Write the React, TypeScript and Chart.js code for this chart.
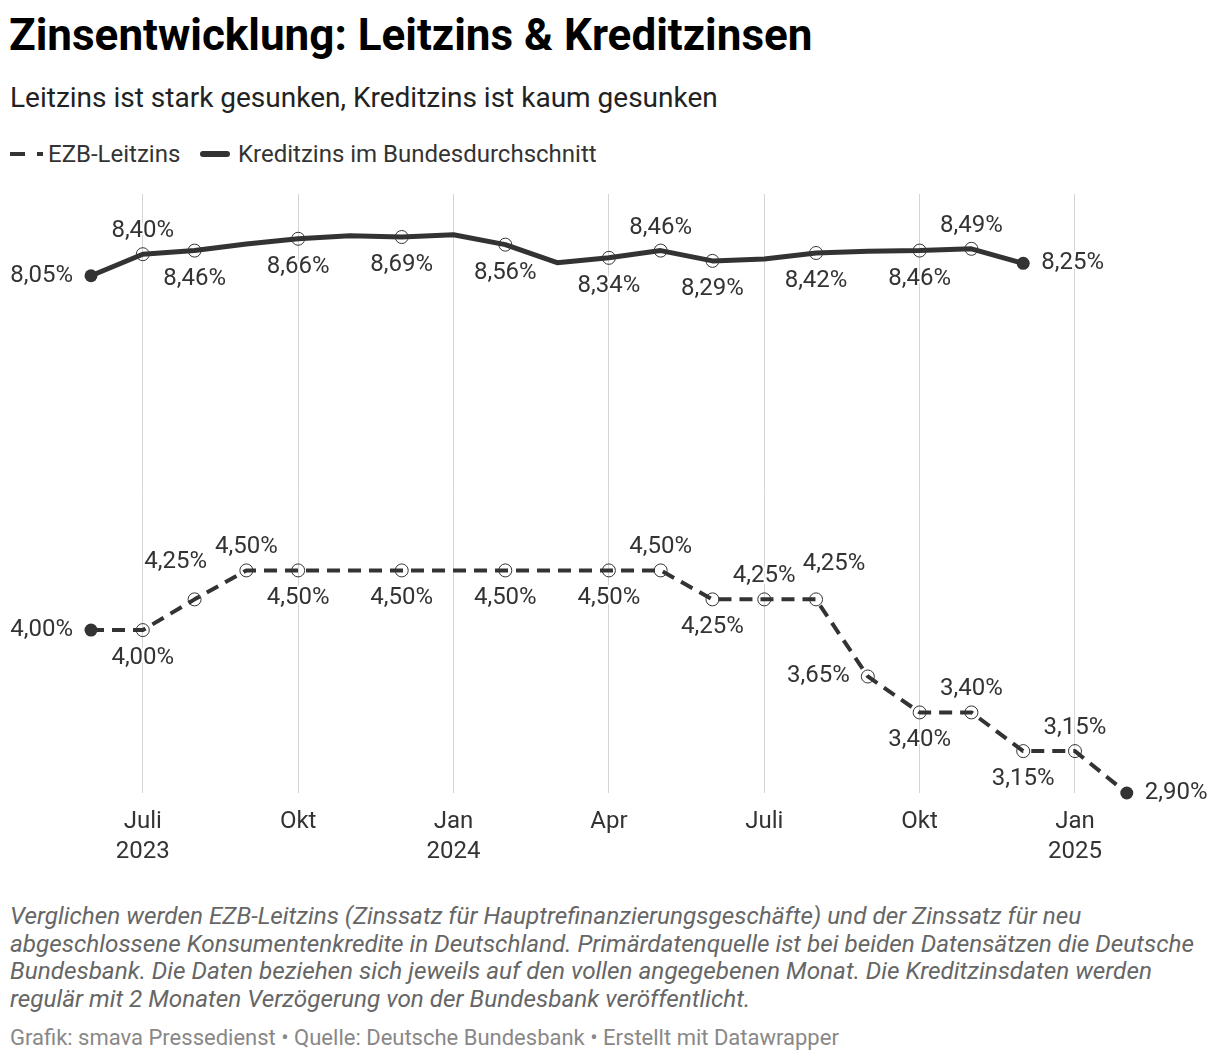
import React, { useEffect, useRef } from "react";
import { Chart, registerables } from "chart.js";

Chart.register(...registerables);

// ---------- data ----------
const months = [
  "06/2023", "07/2023", "08/2023", "09/2023", "10/2023", "11/2023", "12/2023",
  "01/2024", "02/2024", "03/2024", "04/2024", "05/2024", "06/2024", "07/2024",
  "08/2024", "09/2024", "10/2024", "11/2024", "12/2024", "01/2025", "02/2025",
];

const ezbLeitzins = [
  4.0, 4.0, 4.25, 4.5, 4.5, 4.5, 4.5, 4.5, 4.5, 4.5, 4.5, 4.5, 4.25, 4.25, 4.25,
  3.65, 3.4, 3.4, 3.15, 3.15, 2.9,
];

const kreditzins = [
  8.05, 8.4, 8.46, 8.57, 8.66, 8.71, 8.69, 8.73, 8.56, 8.26, 8.34, 8.46, 8.29,
  8.32, 8.42, 8.45, 8.46, 8.49, 8.25, null, null,
];

const tickMonthIndex = [1, 4, 7, 10, 13, 16, 19];
const tickLabels = [["Juli", "2023"], ["Okt"], ["Jan", "2024"], ["Apr"], ["Juli"], ["Okt"], ["Jan", "2025"]];

const seriesNames = ["EZB-Leitzins", "Kreditzins im Bundesdurchschnitt"];

// where each value label sits relative to its point (null = no label)
const ezbLabelPlacement = [
  "left", "below", "aboveLeft", "above", "below", null, "below", null, "below", null,
  "below", "above", "below", "above", "aboveRight", "left", "below", "above", "below",
  "above", "right",
];
const kreditLabelPlacement = [
  "left", "above", "below", null, "below", null, "below", null, "below", null, "below",
  "above", "below", null, "below", null, "below", "above", "right", null, null,
];

// ---------- style ----------
const FONT = "Roboto, 'Noto Sans', sans-serif";
const INK = "#333333";

function firstIndex(arr: (number | null)[]) {
  return arr.findIndex((v) => v != null);
}
function lastIndex(arr: (number | null)[]) {
  for (let i = arr.length - 1; i >= 0; i--) if (arr[i] != null) return i;
  return -1;
}

function pointOptions(values: (number | null)[], placement: (string | null)[]) {
  const f = firstIndex(values);
  const l = lastIndex(values);
  const isEnd = (i: number) => i === f || i === l;
  return {
    pointRadius: values.map((v, i) => (v == null ? 0 : isEnd(i) || placement[i] ? 6.5 : 0)),
    pointBackgroundColor: values.map((_, i) => (isEnd(i) ? INK : "rgba(0,0,0,0)")),
    pointBorderColor: values.map(() => INK),
    pointBorderWidth: values.map((_, i) => (isEnd(i) ? 0 : 1)),
  };
}

const placements = [ezbLabelPlacement, kreditLabelPlacement];

const labelPlugin = {
  id: "valueLabels",
  afterDatasetsDraw(chart: any) {
    const ctx = chart.ctx as CanvasRenderingContext2D;
    ctx.save();
    ctx.font = `24px ${FONT}`;
    ctx.textBaseline = "middle";
    chart.data.datasets.forEach((ds: any, di: number) => {
      const meta = chart.getDatasetMeta(di);
      const placement = placements[di];
      ds.data.forEach((pt: any, i: number) => {
        const p = placement[i];
        if (!p || pt.y == null) return;
        const el = meta.data[i];
        const text = pt.y.toFixed(2).replace(".", ",") + "%";
        let x = el.x;
        let y = el.y;
        let align: CanvasTextAlign = "center";
        switch (p) {
          case "above":
            y -= 23;
            break;
          case "below":
            y += 28;
            break;
          case "left":
            x -= 18;
            align = "right";
            break;
          case "right":
            x += 18;
            align = "left";
            break;
          case "aboveLeft":
            x -= 19;
            y -= 37;
            break;
          case "aboveRight":
            x += 18;
            y -= 35;
            break;
        }
        ctx.textAlign = align;
        ctx.lineWidth = 4;
        ctx.lineJoin = "round";
        ctx.strokeStyle = "#ffffff";
        ctx.strokeText(text, x, y);
        ctx.fillStyle = INK;
        ctx.fillText(text, x, y);
      });
    });
    ctx.restore();
  },
};

export default function App() {
  const ref = useRef<HTMLCanvasElement | null>(null);

  useEffect(() => {
    if (!ref.current) return;
    const toPoints = (vals: (number | null)[]) =>
      months.map((_, i) => ({ x: i, y: vals[i] }));

    const chart = new Chart(ref.current, {
      type: "line",
      data: {
        datasets: [
          {
            label: seriesNames[0],
            data: toPoints(ezbLeitzins) as any,
            borderColor: INK,
            borderWidth: 4,
            borderDash: [13, 8],
            borderCapStyle: "butt",
            borderJoinStyle: "round",
            tension: 0,
            clip: false as any,
            ...pointOptions(ezbLeitzins, ezbLabelPlacement),
          },
          {
            label: seriesNames[1],
            data: toPoints(kreditzins) as any,
            borderColor: INK,
            borderWidth: 5,
            borderCapStyle: "round",
            borderJoinStyle: "round",
            tension: 0,
            clip: false as any,
            ...pointOptions(kreditzins, kreditLabelPlacement),
          },
        ],
      },
      options: {
        responsive: false,
        animation: false,
        events: [],
        layout: { autoPadding: false, padding: { top: 14, left: 0, right: 0, bottom: 0 } },
        plugins: {
          legend: { display: false },
          tooltip: { enabled: false },
          title: { display: false },
        },
        scales: {
          x: {
            type: "linear",
            bounds: "data",
            min: -1.757,
            max: 21.8,
            afterBuildTicks: (scale: any) => {
              scale.ticks = tickMonthIndex.map((v) => ({ value: v }));
            },
            afterFit: (scale: any) => {
              scale.height = 87;
              scale.paddingLeft = 0;
              scale.paddingRight = 0;
            },
            ticks: {
              autoSkip: false,
              maxRotation: 0,
              padding: 14,
              color: INK,
              font: { family: FONT, size: 24, lineHeight: 1.25 },
              callback: (_v: any, index: number) => tickLabels[index],
            },
            grid: { color: "#d4d4d4", lineWidth: 1, drawTicks: false },
            border: { display: false },
          },
          y: {
            type: "logarithmic",
            bounds: "data",
            min: 2.9,
            max: 9.46,
            display: false,
          },
        },
      },
      plugins: [labelPlugin],
    });
    return () => chart.destroy();
  }, []);

  const footerLines = [
    "Verglichen werden EZB-Leitzins (Zinssatz für Hauptrefinanzierungsgeschäfte) und der Zinssatz für neu",
    "abgeschlossene Konsumentenkredite in Deutschland. Primärdatenquelle ist bei beiden Datensätzen die Deutsche",
    "Bundesbank. Die Daten beziehen sich jeweils auf den vollen angegebenen Monat. Die Kreditzinsdaten werden",
    "regulär mit 2 Monaten Verzögerung von der Bundesbank veröffentlicht.",
  ];

  return (
    <div
      style={{
        position: "absolute",
        left: 0,
        top: 0,
        width: 1220,
        height: 1062,
        background: "#ffffff",
        fontFamily: FONT,
        overflow: "hidden",
      }}
    >
      <div
        style={{
          position: "absolute",
          left: 9,
          top: 13,
          fontSize: 44,
          lineHeight: "44px",
          fontWeight: 700,
          color: "#000",
          whiteSpace: "nowrap",
        }}
      >
        Zinsentwicklung: Leitzins &amp; Kreditzinsen
      </div>
      <div
        style={{
          position: "absolute",
          left: 10,
          top: 84,
          fontSize: 28,
          lineHeight: "28px",
          color: "#222",
          whiteSpace: "nowrap",
        }}
      >
        Leitzins ist stark gesunken, Kreditzins ist kaum gesunken
      </div>

      {/* legend */}
      <div style={{ position: "absolute", left: 10, top: 152, width: 15, height: 4, background: INK }} />
      <div style={{ position: "absolute", left: 37, top: 152, width: 6, height: 4, background: INK }} />
      <div
        style={{ position: "absolute", left: 48, top: 142, fontSize: 24, lineHeight: "24px", color: INK, whiteSpace: "nowrap" }}
      >
        {seriesNames[0]}
      </div>
      <div
        style={{ position: "absolute", left: 200, top: 151, width: 30, height: 6, borderRadius: 3, background: INK }}
      />
      <div
        style={{ position: "absolute", left: 238, top: 142, fontSize: 24, lineHeight: "24px", color: INK, whiteSpace: "nowrap" }}
      >
        {seriesNames[1]}
      </div>

      <canvas
        ref={ref}
        width={1220}
        height={700}
        style={{ position: "absolute", left: 0, top: 180, width: 1220, height: 700 }}
      />

      <div
        style={{
          position: "absolute",
          left: 10,
          top: 902,
          fontSize: 24.3,
          lineHeight: "27.7px",
          fontStyle: "italic",
          color: "#666",
        }}
      >
        {footerLines.map((l, i) => (
          <div key={i} style={{ whiteSpace: "nowrap" }}>
            {l}
          </div>
        ))}
      </div>
      <div
        style={{
          position: "absolute",
          left: 10,
          top: 1027,
          fontSize: 22,
          lineHeight: "22px",
          color: "#888",
          whiteSpace: "nowrap",
        }}
      >
        Grafik: smava Pressedienst • Quelle: Deutsche Bundesbank • Erstellt mit Datawrapper
      </div>
    </div>
  );
}
